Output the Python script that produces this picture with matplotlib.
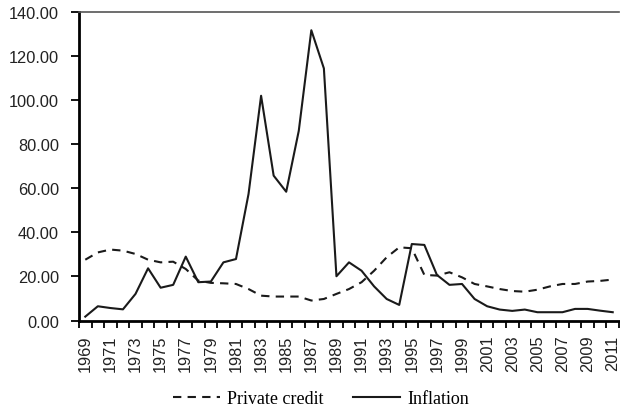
import numpy as np
import matplotlib
matplotlib.use('Agg')
import matplotlib.pyplot as plt
from matplotlib.ticker import FormatStrFormatter

# Data
years = list(range(1969, 2012))
private_credit = [27.6, 30.9, 32.2, 31.7, 30.2, 27.6, 26.4, 26.7, 23.4, 18.1,
                  17.1, 16.9, 16.6, 14.3, 11.3, 10.9, 10.9, 10.9, 9.1, 9.8,
                  12.1, 14.3, 17.4, 22.6, 28.7, 33.2, 32.8, 20.7, 20.4, 21.9,
                  19.6, 16.6, 15.5, 14.3, 13.4, 13.1, 14.0, 15.5, 16.6, 16.6,
                  17.7, 18.0, 18.6]
inflation = [1.8, 6.5, 5.7, 5.1, 12.1, 23.7, 14.9, 16.2, 29.0, 17.4,
             17.7, 26.4, 27.9, 57.4, 101.9, 65.7, 58.4, 86.0, 131.6, 114.3,
             20.1, 26.4, 22.6, 15.5, 9.8, 7.1, 34.7, 34.3, 20.7, 16.2,
             16.6, 9.8, 6.5, 5.0, 4.4, 5.0, 3.8, 3.8, 3.8, 5.3,
             5.3, 4.5, 3.8]

fig = plt.figure(figsize=(6.2, 4.1), dpi=100)
ax = fig.add_axes([79 / 620, 1 - 321.6 / 410, 540 / 620, 308.9 / 410])

x = np.arange(len(years))
ax.plot(x, private_credit, color='#1a1a1a', lw=1.5, dashes=(4, 3),
        label='Private credit')
ax.plot(x, inflation, color='#1a1a1a', lw=1.5, label='Inflation')

ax.set_xlim(-0.5, len(years) - 0.5)
ax.set_ylim(0, 140)
ax.set_yticks(np.arange(0, 141, 20))
ax.yaxis.set_major_formatter(FormatStrFormatter('%.2f'))

# category axis: ticks on boundaries, labels every other year at centres
ax.set_xticks(np.arange(-0.5, len(years), 1.0), minor=True)
ax.set_xticks(x[::2])
ax.set_xticklabels([str(y) for y in years[::2]], rotation=90)
ax.tick_params(axis='x', which='major', length=0, pad=10)
ax.tick_params(axis='x', which='minor', length=5, width=1.3, direction='out')
ax.tick_params(axis='y', length=6, width=1.3, direction='out', pad=8.5)
ax.tick_params(labelsize=11.8)
for lab in ax.get_xticklabels() + ax.get_yticklabels():
    lab.set_family('Liberation Sans')
    lab.set_color('#222222')

for side in ['left', 'bottom']:
    ax.spines[side].set_linewidth(2)
    ax.spines[side].set_color('black')
ax.spines['right'].set_visible(False)
ax.spines['top'].set_color('#555555')
ax.spines['top'].set_linewidth(1.2)

fig.legend(loc='center', bbox_to_anchor=(321 / 620, 1 - 400 / 410), ncol=2,
           frameon=False, prop={'family': 'Liberation Serif', 'size': 13},
           handlelength=2.6, handletextpad=0.4, columnspacing=1.6,
           borderpad=0)

fig.savefig('out.png', dpi=100)
